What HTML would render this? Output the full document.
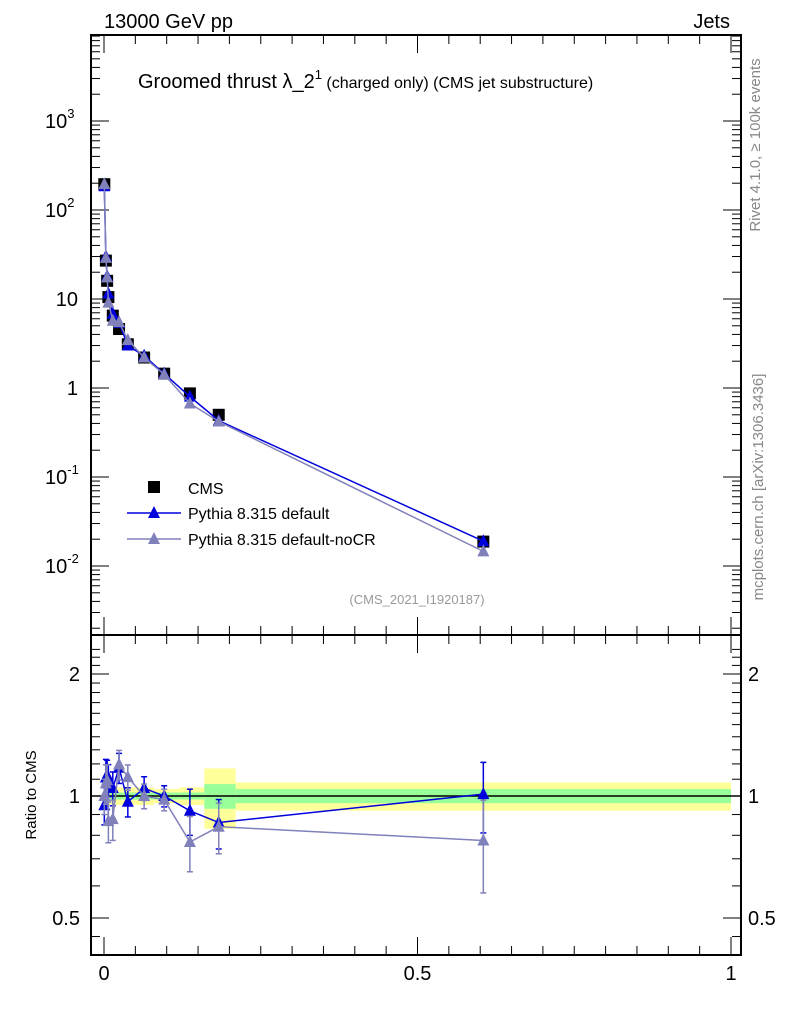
<!DOCTYPE html>
<html><head><meta charset="utf-8"><style>
body{margin:0;background:#fff;}
svg{font-family:"Liberation Sans",sans-serif;}
</style></head><body>
<svg id="c" width="786" height="1024" viewBox="0 0 786 1024" xmlns="http://www.w3.org/2000/svg">
<text x="104" y="28" font-size="20">13000 GeV pp</text>
<text x="730" y="28" font-size="20" text-anchor="end">Jets</text>
<text x="138" y="88" font-size="20">Groomed thrust λ_2<tspan font-size="13" dy="-9">1</tspan><tspan font-size="16" dy="9"> (charged only) (CMS jet substructure)</tspan></text>
<text x="417" y="604" font-size="13" fill="#999" text-anchor="middle">(CMS_2021_I1920187)</text>
<text transform="translate(760,145) rotate(-90)" font-size="15" fill="#888" text-anchor="middle">Rivet 4.1.0, ≥ 100k events</text>
<text transform="translate(763,487) rotate(-90)" font-size="15" fill="#888" text-anchor="middle">mcplots.cern.ch [arXiv:1306.3436]</text>
<text transform="translate(36,795) rotate(-90)" font-size="15" text-anchor="middle">Ratio to CMS</text>
<g id="g"></g>
</svg>
<script>
const binEdges=[0,0.002,0.004,0.006,0.01,0.018,0.03,0.05,0.08,0.12,0.16,0.21,1.0];
const xCenters=[0.0005,0.003,0.005,0.007,0.014,0.024,0.038,0.064,0.096,0.137,0.183,0.605];
const cms=[195,27,16,10.5,6.5,4.6,3.1,2.2,1.45,0.87,0.5,0.0188];
const pyDefault=[185,30,18,11.5,6.8,5.4,3.0,2.3,1.45,0.8,0.43,0.019];
const pyNoCR=[195,29,17.5,9.1,5.7,5.5,3.45,2.2,1.42,0.67,0.42,0.0146];
const bandYellow=[0.05,0.05,0.05,0.05,0.05,0.05,0.05,0.05,0.04,0.05,0.17,0.08];
const bandGreen=[0.02,0.02,0.02,0.02,0.02,0.02,0.02,0.02,0.02,0.02,0.07,0.04];
const ratioErr=[0.1,0.12,0.1,0.1,0.1,0.1,0.08,0.07,0.06,0.12,0.12,0.2];
const yTicks=[-2,-1,0,1,2,3];
const yTickLabels=["10^-2","10^-1","1","10","10^2","10^3"];
const rTicks=[0.5,1,2];
const xTicks=[0,0.5,1];

const NS="http://www.w3.org/2000/svg";
const g=document.getElementById('g');
const X0=104,X1=731,L=91,R=741,T=35,M=635,B=955;
const sx=v=>X0+(X1-X0)*v;
const sy=v=>388-89*Math.log10(v);
const sr=v=>796-122*Math.log2(v);
function el(t,a,p){const e=document.createElementNS(NS,t);for(const k in a)e.setAttribute(k,a[k]);(p||g).appendChild(e);return e;}

for(let i=0;i<cms.length;i++){
  const xa=sx(binEdges[i]),xb=sx(binEdges[i+1]);
  const y=el('rect',{x:xa,y:sr(1+bandYellow[i]),width:xb-xa,height:sr(1-bandYellow[i])-sr(1+bandYellow[i]),fill:'#ffff99'});
  
  
  const gr=el('rect',{x:xa,y:sr(1+bandGreen[i]),width:xb-xa,height:sr(1-bandGreen[i])-sr(1+bandGreen[i]),fill:'#99ff99'});
  
  
}
const one=el('line',{x1:L,x2:R,y1:sr(1),y2:sr(1),stroke:'#000','stroke-width':1.5});



const f1=el('rect',{x:L,y:T,width:R-L,height:M-T,fill:'none',stroke:'#000','stroke-width':2});


const f2=el('rect',{x:L,y:M,width:R-L,height:B-M,fill:'none',stroke:'#000','stroke-width':2});



for(let d=-3;d<=3;d++){
  for(let m=1;m<10;m++){
    const v=m*Math.pow(10,d);const y=sy(v);
    if(y<T||y>M)continue;
    const len=m==1?18:9;
    el('line',{x1:L,x2:L+len,y1:y,y2:y,stroke:'#000'});
    el('line',{x1:R,x2:R-len,y1:y,y2:y,stroke:'#000'});
  }
}
yTicks.forEach((d,i)=>{
  const y=sy(Math.pow(10,d));
  const t=el('text',{x:78,y:y+7,'font-size':20,'text-anchor':'end'});
  if(d>=2||d<0){t.setAttribute('x',45);t.setAttribute('text-anchor','start');t.innerHTML='10<tspan font-size="13" dy="-10">'+(d)+'</tspan>';}
  else t.textContent=yTickLabels[i];
  
  
});
for(let v=0.5;v<=2.4;v+=0.1){const y=sr(v);if(y<M||y>B)continue;
  const major=[0.5,1,2].some(a=>Math.abs(a-v)<1e-6);const len=major?18:9;
  el('line',{x1:L,x2:L+len,y1:y,y2:y,stroke:'#000'});el('line',{x1:R,x2:R-len,y1:y,y2:y,stroke:'#000'});}
[0.4,0.45].forEach(v=>{const y=sr(v);if(y<B){el('line',{x1:L,x2:L+9,y1:y,y2:y,stroke:'#000'});el('line',{x1:R,x2:R-9,y1:y,y2:y,stroke:'#000'});}});
rTicks.forEach(v=>{
  const y=sr(v);
  const t=el('text',{x:80,y:y+7,'font-size':20,'text-anchor':'end'});t.textContent=String(v);
  
  
  const t2=el('text',{x:748,y:y+7,'font-size':20});t2.textContent=String(v);
  
  
});
for(let k=0;k<=20;k++){const v=k*0.05;const x=sx(v);const len=k%10==0?18:9;
  el('line',{x1:x,x2:x,y1:B,y2:B-len,stroke:'#000'});el('line',{x1:x,x2:x,y1:M,y2:M-len,stroke:'#000'});
  el('line',{x1:x,x2:x,y1:M,y2:M+len,stroke:'#000'});el('line',{x1:x,x2:x,y1:T,y2:T+len,stroke:'#000'});}
xTicks.forEach(v=>{const t=el('text',{x:sx(v),y:980,'font-size':20,'text-anchor':'middle'});t.textContent=String(v);
  
  });

function tri(x,y,c,name){const p=el('polygon',{points:`${x},${y-7} ${x-6},${y+5} ${x+6},${y+5}`,fill:c});
  
  }
cms.forEach((v,i)=>{const r=el('rect',{x:sx(xCenters[i])-6,y:sy(v)-6,width:12,height:12,fill:'#000'});
  
  });
const series=[[pyDefault,'#0000dd','pythia-default'],[pyNoCR,'#8080bb','pythia-nocr']];
series.forEach(([arr,c,n])=>{
  const pl=el('polyline',{points:arr.map((v,i)=>sx(xCenters[i])+','+sy(v)).join(' '),fill:'none',stroke:c,'stroke-width':1.5});
  
  
  arr.forEach((v,i)=>tri(sx(xCenters[i]),sy(v),c,n+'-point'));
  const rr=arr.map((v,i)=>v/cms[i]);
  const pr=el('polyline',{points:rr.map((v,i)=>sx(xCenters[i])+','+sr(v)).join(' '),fill:'none',stroke:c,'stroke-width':1.5});
  
  
  rr.forEach((v,i)=>{const x=sx(xCenters[i]);const e=ratioErr[i];
    el('line',{x1:x,x2:x,y1:sr(v+e),y2:sr(Math.max(v-e,0.3)),stroke:c,'stroke-width':1.5});
    el('line',{x1:x-3,x2:x+3,y1:sr(v+e),y2:sr(v+e),stroke:c,'stroke-width':1.5});
    el('line',{x1:x-3,x2:x+3,y1:sr(v-e),y2:sr(v-e),stroke:c,'stroke-width':1.5});
    tri(x,sr(v),c,n+'-ratio-point');});
});
const lg=el('g',{});


el('rect',{x:148,y:481,width:12,height:12,fill:'#000'},lg);
const t1=el('text',{x:188,y:494,'font-size':16},lg);t1.textContent='CMS';
el('line',{x1:127,x2:181,y1:513,y2:513,stroke:'#0000dd','stroke-width':1.5},lg);
el('polygon',{points:'154,506 148,518 160,518',fill:'#0000dd'},lg);
const t2=el('text',{x:188,y:519,'font-size':16},lg);t2.textContent='Pythia 8.315 default';
el('line',{x1:127,x2:181,y1:539,y2:539,stroke:'#8080bb','stroke-width':1.5},lg);
el('polygon',{points:'154,532 148,544 160,544',fill:'#8080bb'},lg);
const t3=el('text',{x:188,y:545,'font-size':16},lg);t3.textContent='Pythia 8.315 default-noCR';
</script>
</body></html>
